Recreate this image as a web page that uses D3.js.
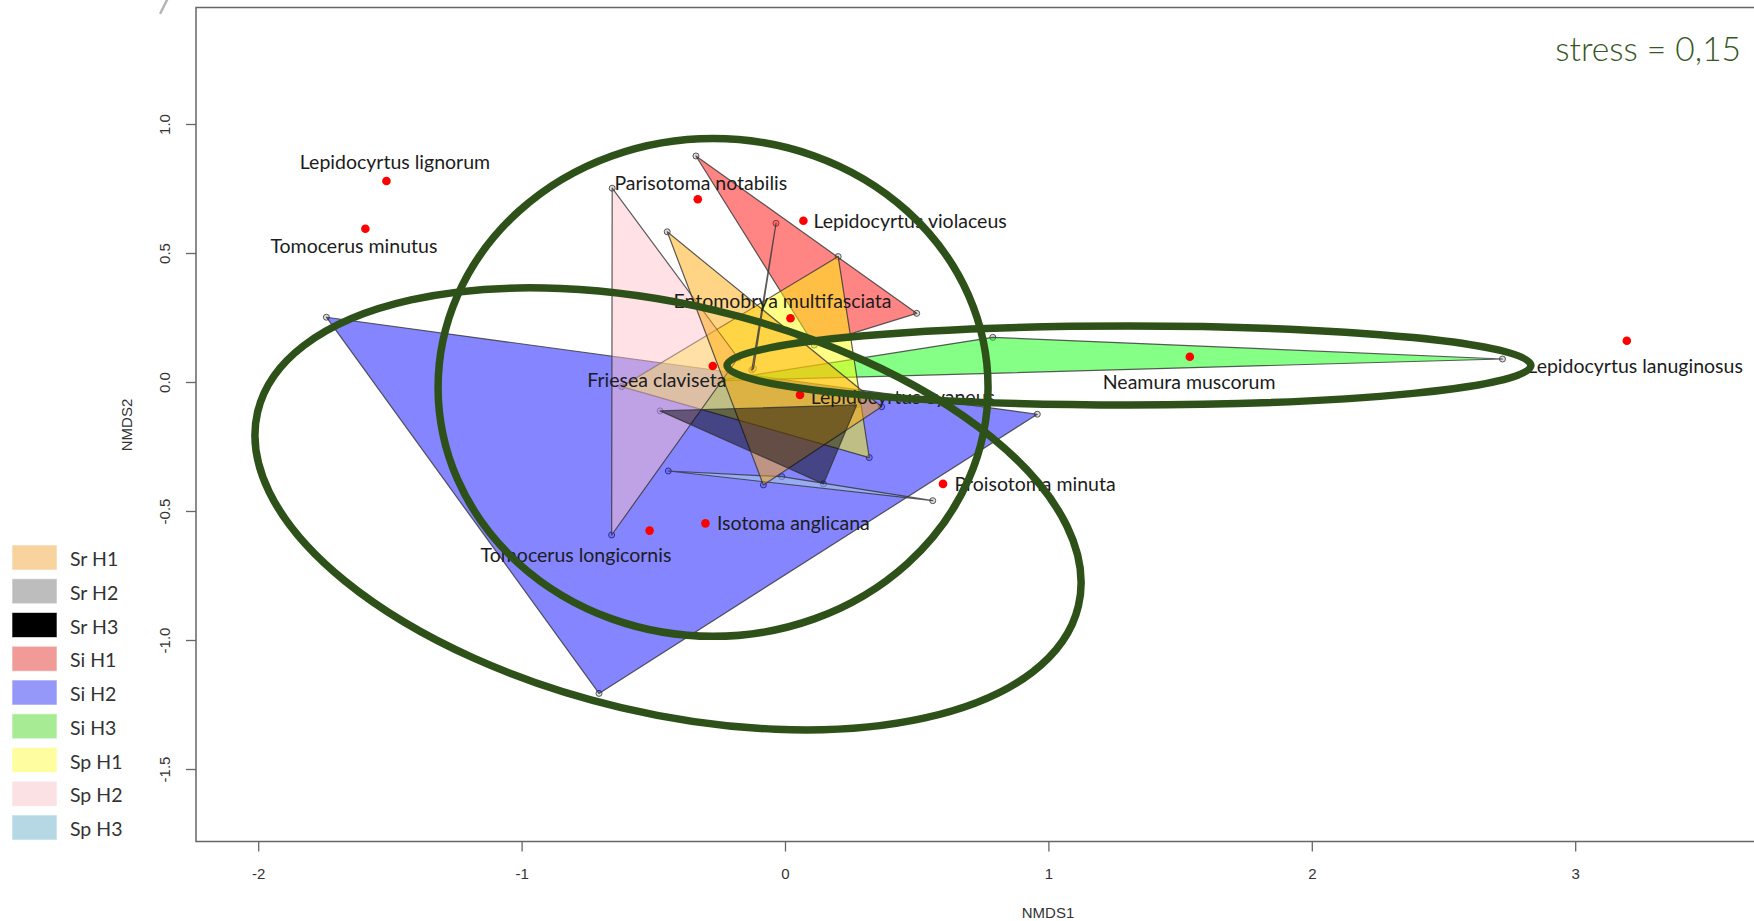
<!DOCTYPE html>
<html><head><meta charset="utf-8">
<script src="https://cdn.jsdelivr.net/npm/d3@7"></script>
<style>body{margin:0;background:#fff;} svg{display:block}</style>
</head><body>
<svg id="c" width="1754" height="921"></svg>
<script>
// ---------- data ----------
const legendGroups = ["Sr H1","Sr H2","Sr H3","Si H1","Si H2","Si H3","Sp H1","Sp H2","Sp H3"];
const legendColors = ["#f8d39d","#bdbdbd","#000000","#f09b98","#9598f8","#a8eb95","#fefea0","#fbe0e4","#b6d8e4"];
const hullOrder = ["Si H1","Si H2","Si H3","Sp H1","Sp H2","Sp H3","Sr H1","Sr H2","Sr H3"];
const hullColors = ["#ff0000","#0000ff","#00ff00","#ffff00","#ffc0cb","#add8e6","#ffa500","#bebebe","#000000"];

// site scores (NMDS1, NMDS2) and their group
const siteGroup = [
  "Si H1","Si H1","Si H1",
  "Si H2","Si H2","Si H2",
  "Si H3","Si H3","Si H3",
  "Sp H1","Sp H1","Sp H1",
  "Sp H2","Sp H2","Sp H2",
  "Sp H3","Sp H3","Sp H3",
  "Sr H1","Sr H1","Sr H1",
  "Sr H2","Sr H2","Sr H2",
  "Sr H3","Sr H3","Sr H3"];
const siteX = [
  -0.340, 0.498, 0.109,
  -1.743, 0.956, -0.708,
  0.787, 2.722, -0.264,
  0.200, -0.622, 0.318,
  -0.658, -0.660, -0.180,
  -0.445, -0.014, 0.559,
  -0.449, 0.365, -0.084,
  -0.036, -0.128, -0.1215,
  -0.476, 0.270, 0.144];
const siteY = [
  0.878, 0.268, 0.145,
  0.253, -0.123, -1.205,
  0.175, 0.091, 0.006,
  0.488, -0.016, -0.291,
  0.753, -0.591, 0.095,
  -0.343, -0.365, -0.458,
  0.584, -0.094, -0.397,
  0.617, 0.048, 0.054,
  -0.110, -0.087, -0.393];

// species scores
const species = ["Lepidocyrtus lignorum","Tomocerus minutus","Parisotoma notabilis","Lepidocyrtus violaceus",
  "Entomobrya multifasciata","Friesea claviseta","Lepidocyrtus cyaneus","Proisotoma minuta",
  "Isotoma anglicana","Tomocerus longicornis","Neamura muscorum","Lepidocyrtus lanuginosus"];
const speciesX = [-1.515,-1.595,-0.333,0.068,0.019,-0.276,0.055,0.598,-0.304,-0.516,1.535,3.194];
const speciesY = [0.781,0.596,0.710,0.627,0.249,0.064,-0.048,-0.393,-0.546,-0.574,0.100,0.162];

const xTicks = [-2,-1,0,1,2,3];
const yTicks = [-1.5,-1.0,-0.5,0.0,0.5,1.0];
const xTickLabels = ["-2","-1","0","1","2","3"];
const yTickLabels = ["-1.5","-1.0","-0.5","0.0","0.5","1.0"];

// hand-drawn ellipses (data units: centre, semi-axes, tilt in degrees)
const ellCX = [-0.275, -0.446, 1.304];
const ellCY = [-0.019, -0.490, 0.066];
const ellA  = [1.044, 1.601, 1.526];
const ellB  = [0.965, 0.791, 0.153];
const ellRot = [0, 13.3, 0];

const stressText = "stress = 0,15";

// ---------- layout ----------
// label placement: [dx, dy, anchor]
const labelPlace = [[8.5,-19.3,"middle"],[-11.5,16.3,"middle"],[3,-16.6,"middle"],[10,0,"start"],
  [-8,-18.2,"middle"],[-56,13.3,"middle"],[10.7,1.7,"start"],[11.5,0,"start"],
  [11.5,-0.6,"start"],[-73.6,24.3,"middle"],[-0.7,24.3,"middle"],[8.3,24.3,"middle"]];

const svg = d3.select("#c");
const box = {left:196, top:7.5, right:1770, bottom:841.5};
const x = d3.scaleLinear().domain([-2,3]).range([258.7,1575.7]);
const y = d3.scaleLinear().domain([-1.5,1]).range([769.5,124.5]);

// artifact arc at top left
svg.append("path").attr("d","M167,0 Q163.5,7 160.5,13").attr("fill","none")
  .attr("stroke","#b5b5b5").attr("stroke-width",2.5).attr("stroke-linecap","round");

// box
svg.append("rect").attr("x",box.left).attr("y",box.top)
  .attr("width",box.right-box.left).attr("height",box.bottom-box.top)
  .attr("fill","none").attr("stroke","#666").attr("stroke-width",1.5);

// axes
const axisFont = "'Liberation Sans', Arial, sans-serif";
const gx = svg.append("g");
xTicks.forEach((t,i)=>{
  gx.append("line").attr("x1",x(t)).attr("x2",x(t)).attr("y1",box.bottom).attr("y2",box.bottom+10)
    .attr("stroke","#666").attr("stroke-width",1.3);
  gx.append("text").attr("x",x(t)).attr("y",873.5).attr("text-anchor","middle")
    .attr("dominant-baseline","central").attr("font-family",axisFont).attr("font-size",15)
    .attr("fill","#333").text(xTickLabels[i]);
});
const gy = svg.append("g");
yTicks.forEach((t,i)=>{
  gy.append("line").attr("x1",box.left-10).attr("x2",box.left).attr("y1",y(t)).attr("y2",y(t))
    .attr("stroke","#666").attr("stroke-width",1.3);
  gy.append("text").attr("transform",`translate(164,${y(t)}) rotate(-90)`).attr("text-anchor","middle")
    .attr("dominant-baseline","central").attr("font-family",axisFont).attr("font-size",15)
    .attr("fill","#333").text(yTickLabels[i]);
});
svg.append("text").attr("x",1048).attr("y",912).attr("text-anchor","middle").attr("dominant-baseline","central")
  .attr("font-family",axisFont).attr("font-size",15).attr("fill","#333").text("NMDS1");
svg.append("text").attr("transform","translate(126.5,425) rotate(-90)").attr("text-anchor","middle")
  .attr("dominant-baseline","central").attr("font-family",axisFont).attr("font-size",15)
  .attr("fill","#333").text("NMDS2");

// site markers
const plot = svg.append("g");
siteX.forEach((v,i)=>{
  plot.append("circle").attr("cx",x(v)).attr("cy",y(siteY[i])).attr("r",3)
    .attr("fill","#ddd").attr("stroke","#555").attr("stroke-width",1);
});

// hulls
hullOrder.forEach((g,gi)=>{
  const pts = siteGroup.map((s,i)=>s===g?[x(siteX[i]),y(siteY[i])]:null).filter(p=>p);
  const hull = d3.polygonHull(pts) || pts;
  plot.append("path").attr("d","M"+hull.map(p=>p.join(",")).join("L")+"Z")
    .attr("fill",hullColors[gi]).attr("fill-opacity",0.48)
    .attr("stroke","#333").attr("stroke-opacity",0.8).attr("stroke-width",1.2)
    .attr("stroke-linejoin","round");
});

// species points + labels
const labFont = "Lato, 'Open Sans', sans-serif";
species.forEach((s,i)=>{
  const px = x(speciesX[i]), py = y(speciesY[i]);
  plot.append("circle").attr("cx",px).attr("cy",py).attr("r",4.3).attr("fill","#ff0000");
  const lp = labelPlace[i];
  plot.append("text").attr("x",px+lp[0]).attr("y",py+lp[1]).attr("text-anchor",lp[2])
    .attr("dominant-baseline","central").attr("font-family",labFont).attr("font-size",19.5)
    .attr("fill","#1c1c1c").text(s);
});

// ellipses
ellCX.forEach((c,i)=>{
  const cx = x(c), cy = y(ellCY[i]);
  const rx = x(ellA[i]) - x(0), ry = y(0) - y(ellB[i]);
  svg.append("ellipse").attr("cx",cx).attr("cy",cy).attr("rx",rx).attr("ry",ry)
    .attr("transform",`rotate(${ellRot[i]},${cx},${cy})`)
    .attr("fill","none").attr("stroke","#2e5119").attr("stroke-width",7.5);
});

// stress
svg.append("text").attr("x",1741).attr("y",61).attr("text-anchor","end")
  .attr("font-family",labFont).attr("font-weight",300).attr("font-size",33.5)
  .attr("fill","#375623").text(stressText);

// legend
const lg = svg.append("g");
legendGroups.forEach((g,i)=>{
  const yy = 545 + i*33.75;
  lg.append("rect").attr("x",12).attr("y",yy).attr("width",45).attr("height",25)
    .attr("fill",legendColors[i]).attr("stroke","#fff").attr("stroke-opacity",0.6);
  lg.append("text").attr("x",70).attr("y",yy+13.5).attr("dominant-baseline","central")
    .attr("font-family",labFont).attr("font-size",19.5).attr("fill","#333").text(g);
});
</script>
</body></html>
